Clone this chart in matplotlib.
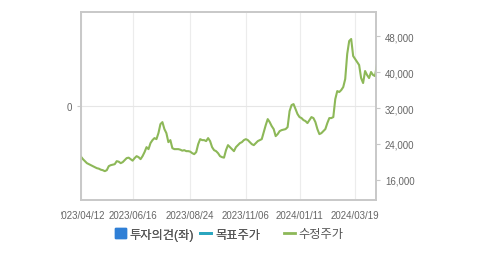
import matplotlib
matplotlib.use("Agg")
import matplotlib.pyplot as plt
from matplotlib.lines import Line2D
from matplotlib.patches import Patch
from matplotlib.transforms import Bbox
from matplotlib import ticker
import numpy as np

plt.rcParams['font.family'] = ['Liberation Sans', 'Noto Sans CJK KR', 'DejaVu Sans']

# adjusted close (수정주가), every 1.7 trading days
price = [
    21160, 20600, 20150, 19710, 19480, 19260, 19040, 18810, 18590, 18480,
    18250, 18140, 17920, 18140, 19040, 19260, 19370, 19480, 20150, 20040,
    19710, 19930, 20380, 20830, 20940, 20600, 20270, 20830, 21270, 21050,
    20600, 21270, 22170, 23280, 22840, 24180, 24850, 25300, 25070, 26410,
    28420, 28870, 27310, 26410, 24400, 24850, 23060, 22840, 22840, 22840,
    22720, 22500, 22610, 22390, 22390, 22280, 21940, 21720, 22170, 23950,
    25070, 24850, 24850, 24630, 25300, 24630, 23280, 22610, 22390, 21940,
    21270, 21050, 20940, 22610, 23730, 23280, 22840, 22390, 23280, 23730,
    24180, 24400, 24850, 25070, 24850, 24400, 23950, 23730, 24180, 24630,
    24850, 25070, 26640, 28200, 29540, 28870, 27980, 27310, 25740, 26190,
    26860, 27080, 27190, 27310, 27750, 31330, 32670, 32890, 31780, 30660,
    29990, 29770, 29320, 29100, 28650, 29320, 29990, 29770, 28870, 27310,
    26190, 26410, 26860, 27310, 28650, 29770, 29770, 29990, 34010, 35800,
    35580, 36020, 36690, 38480, 44070, 46970, 47420, 43620, 42950, 42280,
    41610, 38700, 37590, 40270, 39380, 38700, 40050, 39380, 39150, 41830,
]

tick_labels = ['2023/04/12', '2023/06/16', '2023/08/24', '2023/11/06', '2024/01/11', '2024/03/19']
tick_idx = [0, 26, 55, 83, 110, 138]

legend_labels = ['투자의견(좌)', '목표주가', '수정주가']
legend_colors = ['#2f7fd6', '#2aa6bf', '#8db858']

fig = plt.figure(figsize=(4.79, 2.55), dpi=100)
ax = fig.add_axes([0.169, 0.212, 0.616, 0.738])
ax2 = ax.twinx()

# left axis: opinion scale, only the zero line shows
ax.set_ylim(-1, 1)
ax.set_yticks([0])
ax.yaxis.set_major_formatter(ticker.FuncFormatter(lambda v, p: f'{v:.0f}'))
ax.grid(axis='y', color='#e6e6e6', linewidth=0.8)
ax.grid(axis='x', color='#ececec', linewidth=0.8)
ax.set_axisbelow(True)

x = np.arange(len(price))
ax2.plot(x, price, color=legend_colors[2], linewidth=1.5)
ax.set_xlim(0, len(price) - 1.5)
ax2.set_ylim(11500, 53500)
ax2.set_yticks([16000, 24000, 32000, 40000, 48000])
ax2.yaxis.set_major_formatter(ticker.FuncFormatter(lambda v, p: f'{v:,.0f}'))

ax.set_xticks(tick_idx)
ax.set_xticklabels(tick_labels)

for a in (ax, ax2):
    for s in a.spines.values():
        s.set_color('#c8c8c8')
        s.set_linewidth(1.2)
    a.tick_params(colors='#c8c8c8', labelcolor='#666666', labelsize=7, length=3, width=0.8)
ax.tick_params(axis='x', length=0, pad=7)

# first date label is cut off at the left in the original
fig.canvas.draw()
ax.get_xticklabels()[0].set_clip_box(Bbox.from_extents(61, 0, 479, 255))
ax.get_xticklabels()[0].set_clip_on(True)

handles = [Patch(color=legend_colors[0]),
           Line2D([0], [0], color=legend_colors[1], linewidth=2),
           Line2D([0], [0], color=legend_colors[2], linewidth=2)]
leg_kw = dict(frameon=False, fontsize=8.8, handlelength=0.9, handleheight=0.9,
              handletextpad=0.3, columnspacing=0.5, labelcolor='#555555',
              borderpad=0, borderaxespad=0)
leg1 = fig.legend(handles[:2], legend_labels[:2], loc='center left',
                  bbox_to_anchor=(0.240, 0.078), ncol=2, **leg_kw)
fig.legend(handles[2:], legend_labels[2:], loc='center left',
           bbox_to_anchor=(0.593, 0.078), ncol=1, **leg_kw)
fig.add_artist(leg1)

fig.savefig('out.png', dpi=100)
